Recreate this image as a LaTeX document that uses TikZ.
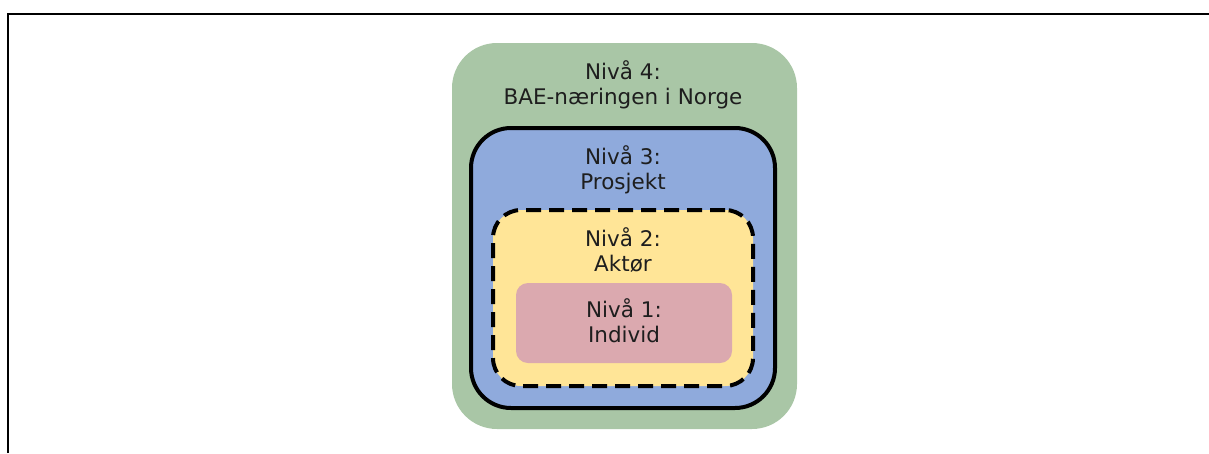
\documentclass[tikz,border=0pt]{standalone}
\usepackage{fontspec}
\setmainfont{DejaVu Sans}
\definecolor{lvlgreen}{HTML}{A9C6A6}
\definecolor{lvlblue}{HTML}{8FAADC}
\definecolor{lvlyellow}{HTML}{FFE597}
\definecolor{lvlpink}{HTML}{DBA9AF}
\definecolor{lbltext}{HTML}{1E1E1E}
\begin{document}
\begin{tikzpicture}[x=1pt,y=-1pt,
  levelbox/.style={rectangle, inner sep=0pt, draw=none},
  levellabel/.style={align=center, font=\fontsize{21.5}{25}\selectfont,
    text=lbltext, inner sep=0pt, anchor=base}]
\useasboundingbox (0,0) rectangle (1209,453);

% page frame: top and left rules only
\coordinate (frameBL) at (8,453);
\coordinate (frameTL) at (8,14);
\coordinate (frameTR) at (1209,14);
\draw[line width=2pt] (frameBL) -- (frameTL) -- (frameTR);

% nested levels, outermost first
\node[levelbox, fill=lvlgreen, minimum width=345pt, minimum height=386pt,
  rounded corners=45pt] (lvl4) at (624.5,236) {};
\node[levelbox, fill=lvlblue, draw=black, line width=4pt, minimum width=304pt,
  minimum height=280pt, rounded corners=40pt] (lvl3) at (623,268) {};
\node[levelbox, fill=lvlyellow, draw=black, line width=4pt,
  dash pattern=on 15pt off 8pt, minimum width=260pt, minimum height=176pt,
  rounded corners=28pt] (lvl2) at (623,298) {};
\node[levelbox, fill=lvlpink, minimum width=216pt, minimum height=80pt,
  rounded corners=12pt] (lvl1) at (624,323) {};

% level labels (anchored on the baseline of the last line)
\node[levellabel] (t4) at (623,104) {Nivå 4:\\BAE-næringen i Norge};
\node[levellabel] (t3) at (623,189) {Nivå 3:\\Prosjekt};
\node[levellabel] (t2) at (623,271) {Nivå 2:\\Aktør};
\node[levellabel] (t1) at (624,342) {Nivå 1:\\Individ};
\end{tikzpicture}
\end{document}
